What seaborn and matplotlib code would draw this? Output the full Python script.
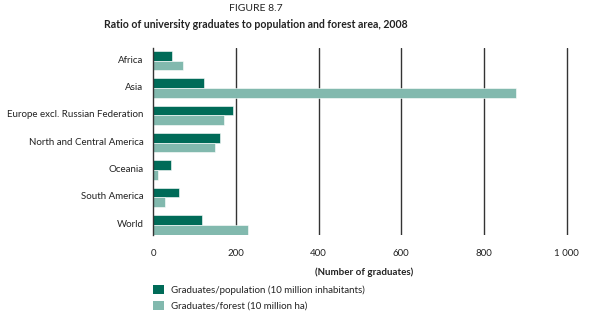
import matplotlib
matplotlib.use("Agg")
import matplotlib.pyplot as plt
import matplotlib.transforms as mtransforms
import seaborn as sns
import pandas as pd
from matplotlib.patches import Patch

regions = ["Africa", "Asia", "Europe excl. Russian Federation", "North and Central America",
           "Oceania", "South America", "World"]
grad_pop = [46, 123, 194, 162, 44, 63, 118]
grad_forest = [71, 878, 170, 150, 11, 28, 228]
series_names = ["Graduates/population (10 million inhabitants)", "Graduates/forest (10 million ha)"]
x_ticks = [0, 200, 400, 600, 800, 1000]
x_ticklabels = ["0", "200", "400", "600", "800", "1 000"]

df = pd.DataFrame({
    "region": regions * 2,
    "value": grad_pop + grad_forest,
    "series": [series_names[0]] * len(regions) + [series_names[1]] * len(regions),
})

sns.set_style("white")
plt.rcParams["font.family"] = ["Lato", "DejaVu Sans"]
txt = "#222222"
colors = ["#006b58", "#82b9ae"]

fig = plt.figure(figsize=(6.0, 3.18), dpi=100)
ax = fig.add_axes([0.2555, 0.261, 0.958 - 0.2555, 0.849 - 0.261])

sns.barplot(data=df, y="region", x="value", hue="series", hue_order=series_names,
            palette=colors, orient="h", width=0.71, dodge=True, ax=ax,
            legend=False, saturation=1, edgecolor="white", linewidth=0.4, zorder=3)

ax.set_xlim(0, 1020)
ax.set_ylim(6.37, -0.46)
ax.set_xticks(x_ticks)
ax.set_xticklabels(x_ticklabels)
for x in x_ticks[1:]:
    ax.axvline(x, color="#333333", lw=1.0, zorder=1, ymin=0, ymax=1)
for s in ["top", "right", "bottom"]:
    ax.spines[s].set_visible(False)
ax.spines["left"].set_color("#333333")
ax.spines["left"].set_linewidth(1.0)
ax.spines["left"].set_zorder(4)
ax.tick_params(axis="x", length=4, width=1.0, color="#333333", labelsize=7, labelcolor=txt, pad=6, direction="out")
ax.tick_params(axis="y", length=0, labelsize=7, labelcolor=txt, pad=7)
shift = mtransforms.ScaledTranslation(0, 1.5 / 100, fig.dpi_scale_trans)
for lab in ax.get_yticklabels():
    lab.set_transform(lab.get_transform() + shift)
ax.set_ylabel("")
ax.set_xlabel("(Number of graduates)", fontsize=7, fontweight="bold", color=txt, labelpad=7)

fig.text(0.427, 1 - 8.5 / 318, "FIGURE 8.7", ha="center", va="center", fontsize=7.5, color=txt)
fig.text(0.427, 1 - 24 / 318, "Ratio of university graduates to population and forest area, 2008",
         ha="center", va="center", fontsize=7.6, fontweight="bold", color=txt)

handles = [Patch(facecolor=c, edgecolor="none") for c in colors]
fig.legend(handles, series_names, loc="upper left", bbox_to_anchor=(0.255, 1 - 285 / 318),
           frameon=False, fontsize=7, handlelength=1.13, handleheight=1.03, borderpad=0,
           handletextpad=0.7, labelspacing=0.62, borderaxespad=0, labelcolor=txt)

fig.savefig("out.png", dpi=100)
